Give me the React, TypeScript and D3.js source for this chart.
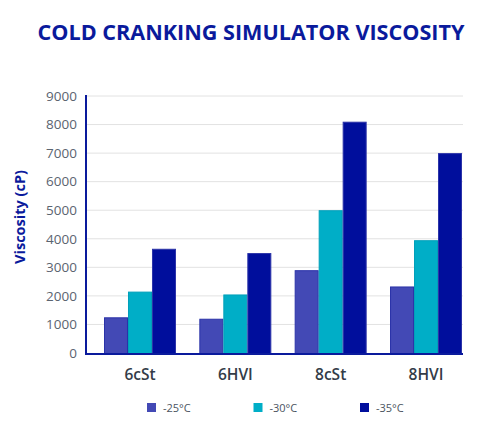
import React, {useEffect, useRef} from 'react';
import * as d3 from 'd3';

const categories = ['6cSt', '6HVI', '8cSt', '8HVI'];
const seriesNames = ['-25°C', '-30°C', '-35°C'];
const minus25 = [1250, 1200, 2900, 2330];
const minus30 = [2150, 2050, 5000, 3950];
const minus35 = [3650, 3500, 8100, 7000];
const yTicks = [0, 1000, 2000, 3000, 4000, 5000, 6000, 7000, 8000, 9000];

const colors = ['#4349B5', '#00AEC7', '#000E9C'];
const strokes = ['#2B33A8', '#00A0BA', '#2B33A8'];
const navy = '#0A1A9C';

export default function App() {
  const ref = useRef<SVGSVGElement>(null);

  useEffect(() => {
    const svg = d3.select(ref.current);
    svg.selectAll('*').remove();

    const left = 86;
    const right = 463;
    const x = d3.scaleBand().domain(categories).range([104, 462]).paddingInner(0.245).paddingOuter(0);
    const xi = d3.scaleBand().domain(seriesNames).range([0, x.bandwidth()]).padding(0);
    const y = d3.scaleLinear().domain([0, 9000]).range([353, 96]);

    svg.append('text')
      .attr('x', 251).attr('y', 40)
      .attr('text-anchor', 'middle')
      .attr('font-family', 'Open Sans, sans-serif')
      .attr('font-weight', 700)
      .attr('font-size', 21.6)
      .attr('fill', navy)
      .text('COLD CRANKING SIMULATOR VISCOSITY');

    // gridlines
    svg.append('g').selectAll('line').data(yTicks.slice(1)).join('line')
      .attr('x1', left).attr('x2', right)
      .attr('y1', d => y(d)).attr('y2', d => y(d))
      .attr('stroke', '#e2e2e2').attr('stroke-width', 1);

    const yAxis = svg.append('g')
      .attr('transform', `translate(${left - 2},0)`)
      .call(d3.axisLeft(y).tickValues(yTicks).tickSize(0).tickPadding(7).tickFormat(d3.format('d')));
    yAxis.select('.domain').remove();
    yAxis.selectAll('text')
      .attr('font-family', 'Open Sans, sans-serif')
      .attr('font-size', 13.5)
      .attr('fill', '#5b6470');

    svg.append('text')
      .attr('transform', 'translate(25,217) rotate(-90)')
      .attr('text-anchor', 'middle')
      .attr('font-family', 'Open Sans, sans-serif')
      .attr('font-weight', 700)
      .attr('font-size', 14.5)
      .attr('fill', navy)
      .text('Viscosity (cP)');

    const series = [minus25, minus30, minus35];
    const groups = svg.append('g').selectAll('g').data(categories).join('g')
      .attr('transform', d => `translate(${x(d)},0)`);
    groups.selectAll('rect')
      .data((_, i) => series.map((s, k) => ({name: seriesNames[k], value: s[i], k})))
      .join('rect')
      .attr('x', d => (xi(d.name) as number) + 0.5)
      .attr('width', xi.bandwidth() - 1)
      .attr('y', d => y(d.value) + 0.5)
      .attr('height', d => y(0) - y(d.value))
      .attr('fill', d => colors[d.k])
      .attr('stroke', d => strokes[d.k])
      .attr('stroke-width', 1);

    // axis lines
    svg.append('line').attr('x1', left).attr('x2', left).attr('y1', 95).attr('y2', 355)
      .attr('stroke', navy).attr('stroke-width', 2);
    svg.append('line').attr('x1', left - 1).attr('x2', right).attr('y1', 354).attr('y2', 354)
      .attr('stroke', navy).attr('stroke-width', 2);

    const xAxis = svg.append('g')
      .attr('transform', 'translate(0,355)')
      .call(d3.axisBottom(x).tickSize(0).tickPadding(14));
    xAxis.select('.domain').remove();
    xAxis.selectAll('text')
      .attr('font-family', 'Open Sans, sans-serif')
      .attr('font-weight', 600)
      .attr('font-size', 15.5)
      .attr('fill', '#333c48');

    const legend = svg.append('g').selectAll('g').data(seriesNames).join('g')
      .attr('transform', (_, i) => `translate(${147 + i * 106.5},403)`);
    legend.append('rect').attr('width', 9).attr('height', 9)
      .attr('fill', (_, i) => colors[i]);
    legend.append('text').attr('x', 16).attr('y', 8.5)
      .attr('font-family', 'Open Sans, sans-serif')
      .attr('font-size', 11)
      .attr('fill', '#4a5360')
      .text(d => d);
  }, []);

  return (
    <svg ref={ref} width={500} height={429} style={{position: 'absolute', left: 0, top: 0, background: '#fff'}} />
  );
}
